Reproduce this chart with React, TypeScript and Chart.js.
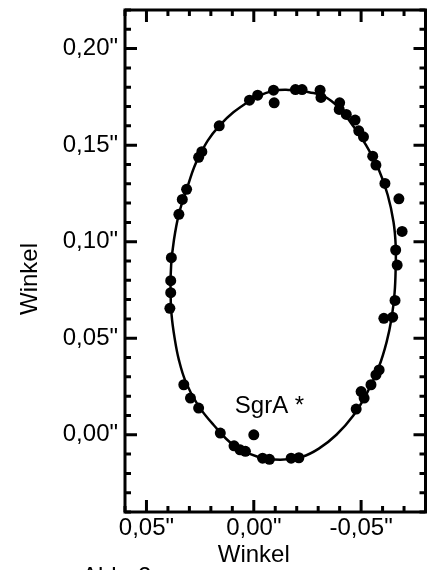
import { useEffect, useRef } from 'react';
import { Chart, registerables } from 'chart.js';

Chart.register(...registerables);

// Fitted orbit curve (angle x, angle y)
const orbitX = [-0.0188, -0.0087, 0.0020, 0.0161, 0.0257, 0.0313, 0.0349, 0.0372, 0.0385, 0.0388, 0.0383, 0.0369, 0.0349, 0.0317, 0.0261, 0.0188, 0.0096, -0.0018, -0.0124, -0.0225, -0.0303, -0.0385, -0.0463, -0.0528, -0.0583, -0.0619, -0.0642, -0.0656, -0.0661, -0.0661, -0.0651, -0.0624, -0.0583, -0.0523, -0.0463, -0.0399, -0.0326, -0.0257, -0.0188];
const orbitY = [0.1787, 0.1780, 0.1729, 0.1600, 0.1438, 0.1271, 0.1143, 0.1009, 0.0879, 0.0750, 0.0621, 0.0502, 0.0388, 0.0274, 0.0155, 0.0052, -0.0052, -0.0114, -0.0129, -0.0114, -0.0072, 0.0000, 0.0098, 0.0217, 0.0352, 0.0481, 0.0605, 0.0735, 0.0864, 0.0983, 0.1102, 0.1242, 0.1371, 0.1500, 0.1599, 0.1692, 0.1754, 0.1774, 0.1787];

// Observed star positions
const obsX = [-0.0092, -0.0095, -0.0018, 0.0020, 0.0161, 0.0242, 0.0257, 0.0313, 0.0333, 0.0349, 0.0384, 0.0387, 0.0387, 0.0391, 0.0326, 0.0295, 0.0257, 0.0156, 0.0092, 0.0064, 0.0039, -0.0041, -0.0073, -0.0174, -0.0210, -0.0477, -0.0500, -0.0514, -0.0546, -0.0569, -0.0584, -0.0606, -0.0647, -0.0658, -0.0668, -0.0661, -0.0691, -0.0676, -0.0611, -0.0569, -0.0554, -0.0511, -0.0489, -0.0472, -0.0431, -0.0398, -0.0400, -0.0313, -0.0309, -0.0225, -0.0194];
const obsY = [0.1785, 0.1719, 0.1759, 0.1733, 0.1600, 0.1466, 0.1437, 0.1271, 0.1219, 0.1142, 0.0917, 0.0798, 0.0736, 0.0655, 0.0259, 0.0190, 0.0138, 0.0009, -0.0057, -0.0078, -0.0086, -0.0121, -0.0127, -0.0121, -0.0119, 0.0133, 0.0224, 0.0190, 0.0259, 0.0310, 0.0336, 0.0603, 0.0609, 0.0696, 0.0879, 0.0957, 0.1053, 0.1222, 0.1302, 0.1397, 0.1443, 0.1543, 0.1574, 0.1630, 0.1659, 0.1685, 0.1719, 0.1747, 0.1785, 0.1788, 0.1788];

// Central object
const sgrX = [0.0];
const sgrY = [0.0];
const sgrLabel = 'SgrA *';

const axisTitle = 'Winkel';
const caption = 'Abb. 2';

const xMin = -0.08;
const xMax = 0.06;
const yMin = -0.04;
const yMax = 0.22;
const tickStep = 0.01;

const FONT = "'Liberation Sans', Arial, sans-serif";

const isMajor = (v: number) => Math.abs(Math.round(v * 100)) % 5 === 0;
const fmt = (v: number) => {
  const r = Math.round(v * 100) / 100;
  const s = Math.abs(r).toFixed(2).replace('.', ',');
  return (r < 0 ? '-' : '') + s + '"';
};

const framePlugin = {
  id: 'frame',
  afterDraw(chart: any) {
    const { ctx, chartArea, scales } = chart;
    const { left, right, top, bottom } = chartArea;
    const x = scales.x;
    const y = scales.y;
    ctx.save();
    ctx.strokeStyle = '#000';
    ctx.fillStyle = '#000';
    ctx.lineWidth = 3;
    ctx.lineCap = 'butt';
    ctx.beginPath();
    x.ticks.forEach((t: any) => {
      const px = x.getPixelForValue(t.value);
      const len = isMajor(t.value) ? 12 : 6;
      ctx.moveTo(px, bottom);
      ctx.lineTo(px, bottom - len);
      ctx.moveTo(px, top);
      ctx.lineTo(px, top + len);
    });
    y.ticks.forEach((t: any) => {
      const py = y.getPixelForValue(t.value);
      const len = isMajor(t.value) ? 12 : 6;
      ctx.moveTo(left, py);
      ctx.lineTo(left + len, py);
      ctx.moveTo(right, py);
      ctx.lineTo(right - len, py);
    });
    ctx.stroke();
    ctx.strokeRect(left, top, right - left, bottom - top);

    ctx.font = `24px ${FONT}`;
    ctx.textBaseline = 'alphabetic';
    // x title
    ctx.textAlign = 'center';
    ctx.fillText(axisTitle, x.getPixelForValue(0), bottom + 50);
    // SgrA label
    const sx = x.getPixelForValue(sgrX[0]);
    const sy = y.getPixelForValue(sgrY[0]);
    ctx.textAlign = 'left';
    ctx.fillText(sgrLabel, sx - 19, sy - 22);
    // caption (cut off by page bottom)
    ctx.fillText(caption, 82, bottom + 72);
    // y title
    ctx.save();
    ctx.translate(37, (top + bottom) / 2 + 18);
    ctx.rotate(-Math.PI / 2);
    ctx.textAlign = 'center';
    ctx.fillText(axisTitle, 0, 0);
    ctx.restore();
    ctx.restore();
  },
};

export default function App() {
  const ref = useRef<HTMLCanvasElement | null>(null);
  useEffect(() => {
    if (!ref.current) return;
    const orbit = orbitX.map((v, i) => ({ x: v, y: orbitY[i] }));
    const obs = obsX.map((v, i) => ({ x: v, y: obsY[i] }));
    const sgr = sgrX.map((v, i) => ({ x: v, y: sgrY[i] }));
    const chart = new Chart(ref.current, {
      type: 'scatter',
      data: {
        datasets: [
          {
            label: 'Orbit',
            data: orbit,
            showLine: true,
            tension: 0.4,
            pointRadius: 0,
            borderColor: '#000',
            borderWidth: 2.5,
            fill: false,
            order: 2,
          } as any,
          {
            label: 'Positionen',
            data: obs,
            pointRadius: 5.5,
            pointBackgroundColor: '#000',
            pointBorderWidth: 0,
            backgroundColor: '#000',
            borderColor: '#000',
            order: 1,
          },
          {
            label: sgrLabel,
            data: sgr,
            pointRadius: 5.5,
            pointBackgroundColor: '#000',
            pointBorderWidth: 0,
            backgroundColor: '#000',
            borderColor: '#000',
            order: 1,
          },
        ],
      },
      options: {
        responsive: false,
        animation: false,
        devicePixelRatio: 1,
        layout: { padding: { top: 10, right: 4, left: 8, bottom: 0 } },
        plugins: { legend: { display: false }, tooltip: { enabled: false } },
        scales: {
          x: {
            type: 'linear',
            reverse: true,
            min: xMin,
            max: xMax,
            grid: { display: false, drawTicks: false },
            border: { display: false },
            ticks: {
              stepSize: tickStep,
              autoSkip: false,
              maxRotation: 0,
              minRotation: 0,
              padding: 2,
              color: '#000',
              font: { family: FONT, size: 24 },
              callback: (v: any) => (isMajor(Number(v)) ? fmt(Number(v)) : ''),
            },
            afterFit: (s: any) => {
              s.height = 58;
              s.paddingLeft = 0;
              s.paddingRight = 0;
            },
          },
          y: {
            type: 'linear',
            min: yMin,
            max: yMax,
            grid: { display: false, drawTicks: false },
            border: { display: false },
            ticks: {
              stepSize: tickStep,
              autoSkip: false,
              padding: 7,
              color: '#000',
              font: { family: FONT, size: 24 },
              callback: (v: any) => (isMajor(Number(v)) ? fmt(Number(v)) : ''),
            },
            afterFit: (s: any) => {
              s.width = 117;
              s.paddingTop = 0;
              s.paddingBottom = 0;
            },
          },
        },
      },
      plugins: [framePlugin],
    });
    return () => chart.destroy();
  }, []);
  return (
    <div style={{ position: 'fixed', left: 0, top: 0, width: 431, height: 570, background: '#fff' }}>
      <canvas ref={ref} width={431} height={570} style={{ width: 431, height: 570, display: 'block' }} />
    </div>
  );
}
